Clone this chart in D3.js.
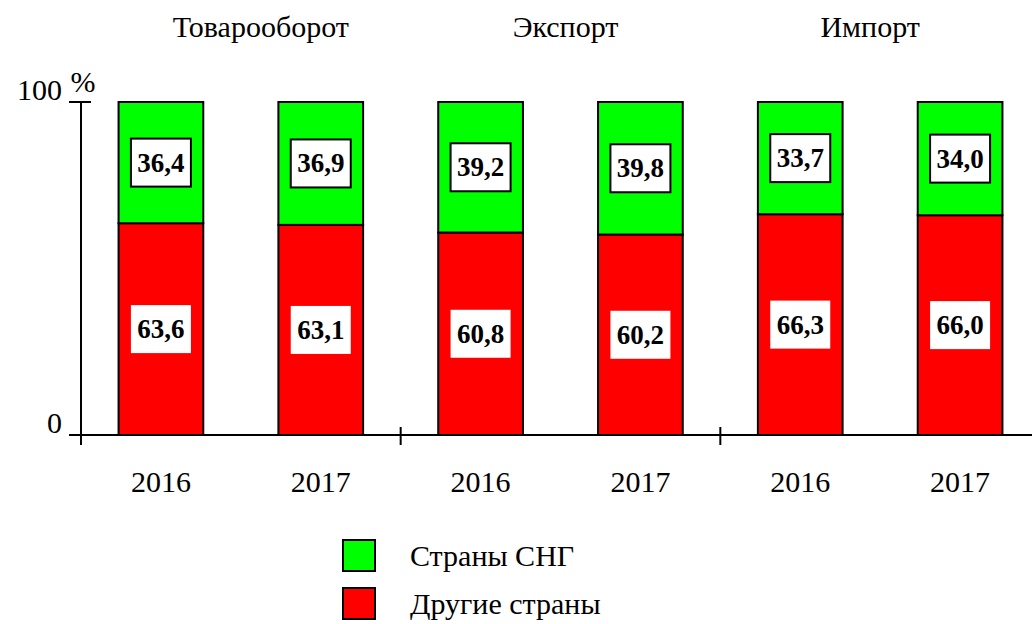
<!DOCTYPE html>
<html>
<head>
<meta charset="utf-8">
<script src="https://cdn.jsdelivr.net/npm/d3@7"></script>
</head>
<body style="margin:0">
<svg width="1032" height="624"></svg>
<script>
// Data
let groups = ["Товарооборот", "Экспорт", "Импорт"];
let years = ["2016", "2017"];
let cisShare = [[36.4, 36.9], [39.2, 39.8], [33.7, 34.0]];
let otherShare = [[63.6, 63.1], [60.8, 60.2], [66.3, 66.0]];
let yTicks = [0, 100];
let legendLabels = ["Страны СНГ", "Другие страны"];

let colCis = "#00ff00";
let colOther = "#ff0000";
let serifFace = "'Times New Roman'";

let svg = d3.select("svg");

// helper for text with the serif face
let addText = (x, y, size, str, anchor, weight) => {
	let t = svg.append("text")
		.attr("x", x).attr("y", y)
		.style("font-family", serifFace)
		.attr("font-size", size)
		.text(str);
	if (anchor) t.attr("text-anchor", anchor);
	if (weight) t.style("font-weight", weight);
	return t;
};

// Scales
let xGroup = d3.scaleBand().domain(groups).range([81, 1040]);
let xYear = d3.scaleBand().domain(years)
	.range([0, xGroup.bandwidth()])
	.paddingInner(0.47)
	.paddingOuter(0.235);
let yScale = d3.scaleLinear().domain([0, 100]).range([435, 102]);

// flatten for drawing
let bars = [];
groups.forEach((g, gi) => {
	years.forEach((y, yi) => {
		bars.push({ group: g, year: y, other: otherShare[gi][yi], cis: cisShare[gi][yi] });
	});
});
let fmt = (v) => v.toFixed(1).replace(".", ",");
let barX = (d) => xGroup(d.group) + xYear(d.year);
let barW = xYear.bandwidth();

// Baseline and axis
svg.append("line")
	.attr("x1", 69).attr("x2", 1032)
	.attr("y1", yScale(0)).attr("y2", yScale(0))
	.attr("stroke", "#000").attr("stroke-width", 2);

svg.append("line")
	.attr("x1", 81).attr("x2", 81)
	.attr("y1", yScale(100)).attr("y2", yScale(0) + 10)
	.attr("stroke", "#000").attr("stroke-width", 2);

svg.append("line")
	.attr("x1", 69).attr("x2", 91)
	.attr("y1", yScale(100)).attr("y2", yScale(100))
	.attr("stroke", "#000").attr("stroke-width", 2);

// group separators
groups.slice(1).forEach((g) => {
	svg.append("line")
		.attr("x1", xGroup(g)).attr("x2", xGroup(g))
		.attr("y1", yScale(0) - 8).attr("y2", yScale(0) + 10)
		.attr("stroke", "#000").attr("stroke-width", 2);
});

// y tick labels
yTicks.forEach((t) => addText(62, yScale(t) - 2, 30, t, "end"));
addText(83, 92, 30, "%", "middle");

// Bars
svg.selectAll(".other")
	.data(bars)
	.enter()
	.append("rect")
	.attr("x", barX)
	.attr("y", (d) => yScale(d.other))
	.attr("width", barW)
	.attr("height", (d) => yScale(0) - yScale(d.other))
	.attr("fill", colOther)
	.attr("stroke", "#000").attr("stroke-width", 2);

svg.selectAll(".cis")
	.data(bars)
	.enter()
	.append("rect")
	.attr("x", barX)
	.attr("y", yScale(100))
	.attr("width", barW)
	.attr("height", (d) => yScale(d.other) - yScale(100))
	.attr("fill", colCis)
	.attr("stroke", "#000").attr("stroke-width", 2);

// Value labels
let labelW = 60, labelH = 48;

bars.forEach((d) => {
	let cx = barX(d) + barW / 2;
	let cyCis = (yScale(100) + yScale(d.other)) / 2;
	let cyOther = (yScale(d.other) + yScale(0)) / 2;

	svg.append("rect")
		.attr("x", cx - labelW / 2).attr("y", cyCis - labelH / 2)
		.attr("width", labelW).attr("height", labelH)
		.attr("fill", "#fff").attr("stroke", "#000").attr("stroke-width", 2);
	addText(cx, cyCis + 9, 27, fmt(d.cis), "middle", "bold");

	svg.append("rect")
		.attr("x", cx - labelW / 2).attr("y", cyOther - labelH / 2)
		.attr("width", labelW).attr("height", labelH)
		.attr("fill", "#fff");
	addText(cx, cyOther + 9, 27, fmt(d.other), "middle", "bold");

	// year under the bar
	addText(cx, 492, 30, d.year, "middle");
});

// Group titles
let titleShift = [20, 5, -10];
groups.forEach((g, i) => {
	addText(xGroup(g) + xGroup.bandwidth() / 2 + titleShift[i], 37, 30, g, "middle");
});

// Legend
let legendColors = [colCis, colOther];
legendLabels.forEach((lab, i) => {
	let y0 = 540 + i * 48;
	svg.append("rect")
		.attr("x", 343).attr("y", y0)
		.attr("width", 32).attr("height", 31)
		.attr("fill", legendColors[i])
		.attr("stroke", "#000").attr("stroke-width", 2);
	addText(410, y0 + 26, 30, lab);
});
</script>
</body>
</html>
